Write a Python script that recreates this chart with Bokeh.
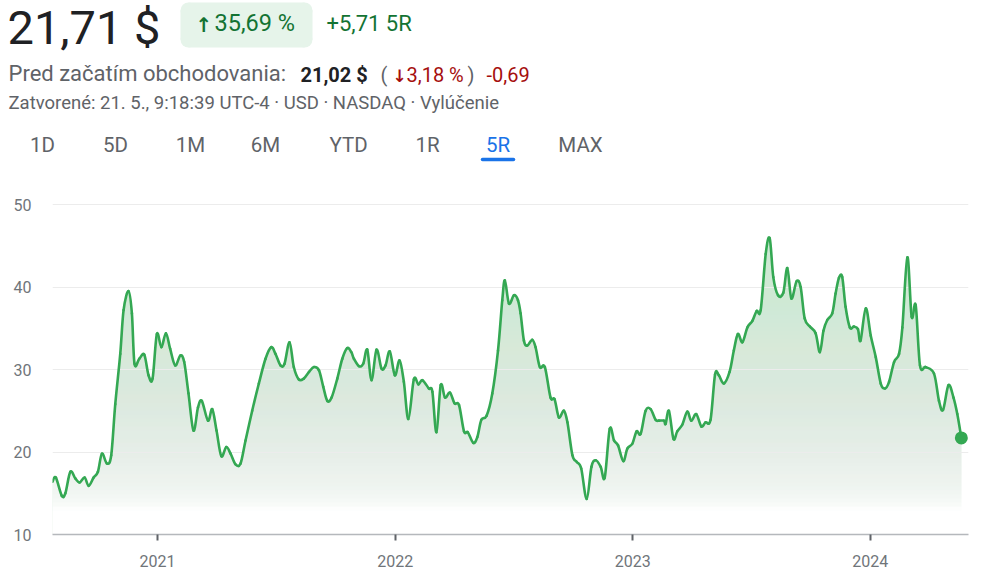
import numpy as np
import pandas as pd
from bokeh.plotting import figure
from bokeh.layouts import column
from bokeh.models import Range1d, FixedTicker, DatetimeTickFormatter
from bokeh.core.properties import value
from bokeh.embed import file_html
from bokeh.resources import INLINE

# ---------------- data ----------------
# time as fractional year, price in USD
years = [
    2020.558, 2020.572, 2020.597, 2020.612, 2020.633, 2020.654, 2020.672, 2020.693, 2020.710, 2020.731,
    2020.749, 2020.766, 2020.787, 2020.805, 2020.822, 2020.843, 2020.857, 2020.878, 2020.892, 2020.903,
    2020.923, 2020.944, 2020.962, 2020.979, 2020.997, 2021.016, 2021.035, 2021.053, 2021.074, 2021.096,
    2021.112, 2021.130, 2021.151, 2021.170, 2021.186, 2021.212, 2021.230, 2021.248, 2021.268, 2021.289,
    2021.307, 2021.328, 2021.349, 2021.370, 2021.398, 2021.426, 2021.454, 2021.478, 2021.496, 2021.517,
    2021.534, 2021.555, 2021.573, 2021.594, 2021.615, 2021.637, 2021.658, 2021.679, 2021.697, 2021.714,
    2021.732, 2021.756, 2021.777, 2021.798, 2021.815, 2021.826, 2021.847, 2021.865, 2021.882, 2021.900,
    2021.921, 2021.942, 2021.959, 2021.977, 2021.998, 2022.018, 2022.036, 2022.055, 2022.078, 2022.097,
    2022.114, 2022.141, 2022.156, 2022.173, 2022.191, 2022.209, 2022.230, 2022.249, 2022.268, 2022.289,
    2022.305, 2022.328, 2022.345, 2022.362, 2022.384, 2022.408, 2022.432, 2022.450, 2022.461, 2022.478,
    2022.499, 2022.516, 2022.527, 2022.541, 2022.555, 2022.576, 2022.590, 2022.608, 2022.629, 2022.653,
    2022.670, 2022.688, 2022.709, 2022.724, 2022.745, 2022.763, 2022.782, 2022.805, 2022.825, 2022.843,
    2022.864, 2022.881, 2022.902, 2022.920, 2022.937, 2022.959, 2022.976, 2022.997, 2023.015, 2023.032,
    2023.053, 2023.074, 2023.095, 2023.109, 2023.130, 2023.137, 2023.151, 2023.170, 2023.186, 2023.207,
    2023.228, 2023.245, 2023.266, 2023.287, 2023.305, 2023.326, 2023.345, 2023.361, 2023.382, 2023.406,
    2023.424, 2023.441, 2023.460, 2023.481, 2023.502, 2023.520, 2023.537, 2023.558, 2023.575, 2023.590,
    2023.610, 2023.632, 2023.649, 2023.666, 2023.688, 2023.705, 2023.722, 2023.744, 2023.768, 2023.786,
    2023.801, 2023.817, 2023.838, 2023.852, 2023.866, 2023.880, 2023.894, 2023.912, 2023.929, 2023.946,
    2023.957, 2023.979, 2024.000, 2024.021, 2024.042, 2024.060, 2024.077, 2024.098, 2024.119, 2024.133,
    2024.154, 2024.172, 2024.189, 2024.207, 2024.231, 2024.266, 2024.287, 2024.304, 2024.327, 2024.348,
    2024.364, 2024.381,
]
prices = [
    16.4, 16.9, 14.7, 15.0, 17.6, 16.8, 16.3, 16.9, 15.9, 16.9,
    17.6, 19.8, 18.6, 19.6, 25.8, 31.9, 37.2, 39.5, 36.8, 30.7,
    31.3, 31.8, 29.3, 28.9, 34.3, 32.7, 34.4, 32.5, 30.5, 31.7,
    30.9, 27.1, 22.6, 25.4, 26.2, 23.8, 25.2, 22.6, 19.5, 20.6,
    19.8, 18.5, 18.6, 21.4, 25.0, 28.3, 31.3, 32.7, 31.9, 30.5,
    30.7, 33.3, 30.3, 28.8, 28.9, 29.7, 30.3, 29.9, 27.9, 26.2,
    26.6, 28.9, 31.3, 32.6, 32.1, 31.3, 30.4, 30.7, 32.4, 28.7,
    32.4, 30.1, 30.5, 32.2, 29.3, 31.1, 28.5, 24.0, 28.8, 28.2,
    28.7, 27.7, 27.3, 22.4, 28.1, 26.6, 27.2, 25.9, 25.7, 22.5,
    22.4, 21.1, 21.8, 23.9, 24.4, 27.1, 32.3, 38.4, 40.8, 38.0,
    39.0, 38.4, 36.8, 33.5, 32.9, 33.6, 32.7, 30.3, 30.3, 26.6,
    26.4, 24.2, 25.0, 23.6, 19.6, 18.8, 18.0, 14.3, 18.2, 19.0,
    18.2, 16.9, 22.8, 21.4, 20.8, 18.9, 20.4, 21.0, 22.5, 22.2,
    25.0, 25.2, 23.9, 23.8, 23.8, 23.4, 25.0, 21.6, 22.5, 23.3,
    24.9, 23.8, 24.6, 23.1, 23.6, 23.9, 29.4, 29.3, 28.3, 29.7,
    32.3, 34.3, 33.3, 35.1, 35.9, 37.1, 37.2, 44.0, 45.9, 41.2,
    39.0, 39.3, 42.3, 38.6, 40.7, 40.0, 36.2, 35.2, 34.4, 32.1,
    34.7, 36.0, 36.8, 39.2, 41.1, 41.2, 37.6, 35.1, 35.2, 34.9,
    33.5, 37.4, 34.1, 31.5, 28.3, 27.7, 28.5, 30.9, 31.9, 35.1,
    43.6, 36.4, 37.8, 30.5, 30.3, 29.5, 26.2, 25.1, 28.1, 26.6,
    24.6, 21.71,
]
y_ticks = [10, 20, 30, 40, 50]
x_tick_years = [2021, 2022, 2023, 2024]

price_text = "21,71 $"
change_pct = "35,69 %"
change_abs = "+5,71 5R"
pre_label = "Pred začatím obchodovania:"
pre_price = "21,02 $"
pre_pct = "3,18 %"
pre_abs = "-0,69"
closed_text = "Zatvorené: 21. 5., 9:18:39 UTC-4 · USD · NASDAQ · Vylúčenie"
tabs = ["1D", "5D", "1M", "6M", "YTD", "1R", "5R", "MAX"]
active_tab = "5R"

# ---------------- colours / fonts ----------------
GREEN = "#34a853"
DKGREEN = "#137333"
RED = "#a50e0e"
GRAY = "#5f6368"
AXGRAY = "#70757a"
BLUE = "#1a73e8"
FONT = value("Roboto")

base = pd.Timestamp("2021-01-01")
dates = [base + pd.Timedelta(days=(fy - 2021) * 365.25) for fy in years]

# ---------------- header (pixel coordinate canvas) ----------------
hdr = figure(width=994, height=180, x_range=Range1d(0, 994), y_range=Range1d(180, 0),
             output_backend="svg", toolbar_location=None, min_border=0,
             x_axis_location=None, y_axis_location=None, outline_line_color=None)
hdr.grid.visible = False
hdr.frame_align = False

# pill behind the percentage change
PILL = "#e6f4ea"
hdr.quad(left=[180], right=[312], top=[10], bottom=[39], fill_color=PILL, line_color=None)
hdr.quad(left=[188], right=[304], top=[2], bottom=[47], fill_color=PILL, line_color=None)
hdr.circle(x=[188, 304, 188, 304], y=[10, 10, 39, 39], radius=8, fill_color=PILL, line_color=None)

def txt(x, y, s, size, color, style="normal", align="left", font=FONT):
    hdr.text(x=[x], y=[y - 0.35 * size], text=[s], text_font=font, text_font_size=f"{size}px",
             text_color=color, text_baseline="alphabetic", text_align=align,
             text_font_style=style)

txt(7, 43, price_text, 47, "#202124")
txt(195, 31, "\u2191", 20, DKGREEN, "bold", font=value("DejaVu Sans"))
txt(214, 31, change_pct, 23.5, DKGREEN)
txt(326, 31, change_abs, 22, DKGREEN)
txt(8, 81, pre_label, 22, GRAY)
txt(300, 81, pre_price, 20, "#202124", "bold")
txt(380, 81, "(", 20, GRAY)
txt(392, 81, "\u2193", 17, RED, "bold", font=value("DejaVu Sans"))
txt(406, 81, pre_pct, 20, RED)
txt(467, 81, ")", 20, GRAY)
txt(486, 81, pre_abs, 20, RED)
txt(8, 109, closed_text, 18.5, GRAY)

tab_cx = [42, 115, 190, 265, 348, 427, 497.5, 580]
for cx, t in zip(tab_cx, tabs):
    txt(cx, 152, t, 20.5, BLUE if t == active_tab else GRAY, align="center")
hdr.segment(x0=[482], y0=[159], x1=[513], y1=[159], line_color=BLUE, line_width=3.5, line_cap="round")

# ---------------- chart ----------------
y_end = 10 + 344 / 8.25
x_end = dates[-1] + pd.Timedelta(days=11)
p = figure(width=994, height=400, x_axis_type="datetime",
           x_range=Range1d(dates[0], x_end),
           y_range=Range1d(10, y_end),
           output_backend="svg", toolbar_location=None,
           min_border_left=52, min_border_right=26, min_border_top=10, min_border_bottom=46,
           outline_line_color=None, background_fill_color="white", border_fill_color="white")
p.frame_align = False

# green area + nested white veils (fade toward the bottom, no seams)
A = 0.26
p.varea(x=dates, y1=10, y2=prices, fill_color=GREEN, fill_alpha=A, level="image")
n = 86
edges = np.linspace(10, y_end, n + 1)
mids = (edges[:-1] + edges[1:]) / 2
green_alpha = np.clip(0.20 * ((mids - 13.0) / 32.0) ** 1.15, 0, A)
green_alpha = np.nan_to_num(green_alpha)
S = green_alpha / A                      # remaining green share per band
alphas = np.zeros(n)
for k in range(1, n + 1):               # rect k spans 10 .. edges[k]
    if k < n:
        alphas[k - 1] = 0.0 if S[k] <= 0 else 1 - S[k - 1] / S[k]
    else:
        alphas[k - 1] = 1 - S[n - 1]
alphas = np.clip(alphas, 0, 1)
p.quad(left=dates[0], right=x_end, bottom=10, top=edges[1:],
       fill_color="white", fill_alpha=alphas, line_color=None, level="image")

# smooth price line (Catmull-Rom segments through every data point)
xm = np.array([d.value / 1e6 for d in dates])
ym = np.array(prices, dtype=float)
xp = np.concatenate([[xm[0]], xm, [xm[-1]]])
yp = np.concatenate([[ym[0]], ym, [ym[-1]]])
t = 1 / 6
cx0 = xp[1:-2] + (xp[2:-1] - xp[:-3]) * t
cy0 = yp[1:-2] + (yp[2:-1] - yp[:-3]) * t
cx1 = xp[2:-1] - (xp[3:] - xp[1:-2]) * t
cy1 = yp[2:-1] - (yp[3:] - yp[1:-2]) * t
p.bezier(x0=xm[:-1], y0=ym[:-1], x1=xm[1:], y1=ym[1:], cx0=cx0, cy0=cy0, cx1=cx1, cy1=cy1,
         line_color=GREEN, line_width=2.6, line_cap="round")
p.scatter([dates[-1]], [prices[-1]], size=13, fill_color=GREEN, line_color=None)

p.xgrid.visible = False
p.ygrid.grid_line_color = "#ececec"
p.ygrid.grid_line_width = 1
p.yaxis.ticker = FixedTicker(ticks=y_ticks)
p.yaxis.axis_line_color = None
p.yaxis.major_tick_line_color = None
p.yaxis.minor_tick_line_color = None
p.yaxis.major_label_standoff = 15
p.yaxis.major_label_text_font = "Roboto"
p.yaxis.major_label_text_font_size = "16px"
p.yaxis.major_label_text_color = AXGRAY

tick_ms = [pd.Timestamp(f"{y}-01-01").timestamp() * 1000 for y in x_tick_years]
p.xaxis.ticker = FixedTicker(ticks=tick_ms)
p.xaxis.formatter = DatetimeTickFormatter(years="%Y", months="%Y", days="%Y", hours="%Y",
                                          minutes="%Y", seconds="%Y", milliseconds="%Y")
p.xaxis.axis_line_color = "#b5b8bc"
p.xaxis.axis_line_width = 1.5
p.xaxis.major_tick_out = 6
p.xaxis.major_tick_in = 0
p.xaxis.major_tick_line_color = "#5f6368"
p.xaxis.major_tick_line_width = 2
p.xaxis.minor_tick_line_color = None
p.xaxis.major_label_standoff = 14
p.xaxis.major_label_text_font = "Roboto"
p.xaxis.major_label_text_font_size = "16px"
p.xaxis.major_label_text_color = AXGRAY

layout = column(hdr, p, spacing=0)
open("out.html", "w").write(file_html(layout, INLINE))
